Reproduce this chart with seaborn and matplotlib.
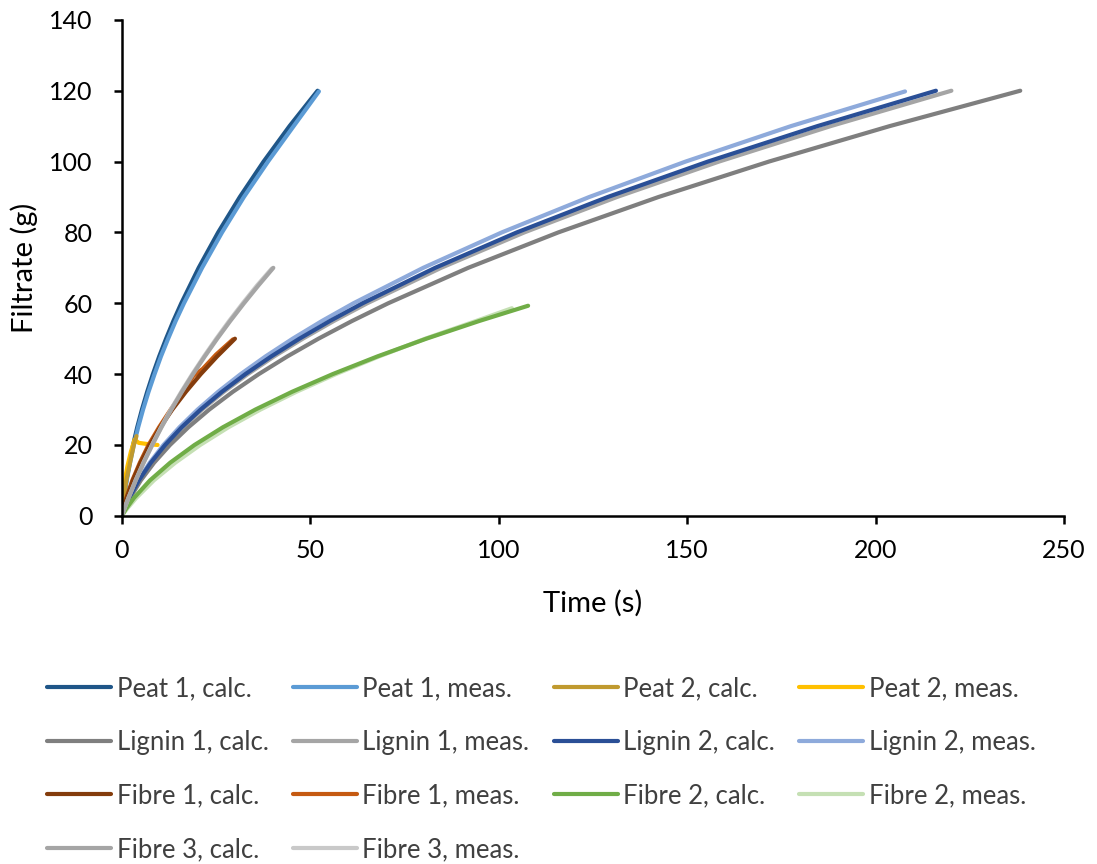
import matplotlib
matplotlib.use("Agg")
import matplotlib.pyplot as plt
import seaborn as sns
import pandas as pd

# ---- data (time in s, filtrate in g) ----
peat1_calc_t = [0, 0.2, 0.54, 1.22, 2.04, 3.0, 4.1, 5.35, 6.74, 8.26, 9.93, 11.75, 13.69,
                15.79, 20.4, 25.57, 31.32, 37.63, 44.5, 51.95]
peat1_calc_v = [0, 2, 5, 10, 15, 20, 25, 30, 35, 40, 45, 50, 55, 60, 70, 80, 90, 100, 110, 120]
peat1_meas_t = [0, 0.22, 0.6, 1.32, 2.2, 3.2, 4.35, 5.65, 7.1, 8.7, 10.4, 12.3, 14.3,
                16.5, 21.3, 26.6, 32.4, 38.8, 45.6, 52.3]
peat1_meas_v = [0, 2, 5, 10, 15, 20, 25, 30, 35, 40, 45, 50, 55, 60, 70, 80, 90, 100, 110, 119.8]

peat2_calc_t = [0, 0.5, 1.2, 2.2, 3.2, 3.9]
peat2_calc_v = [0, 5, 10, 15, 20, 22.5]
peat2_meas_t = [0, 0.3, 0.8, 1.5, 2.4, 3.4, 4.5, 6.5, 9.5]
peat2_meas_v = [0, 5, 10, 14, 18, 21.5, 20.6, 20.3, 20.0]

lignin1_calc_t = [0, 0.79, 2.19, 5.05, 8.58, 12.79, 17.67, 23.22, 29.45, 36.35, 43.93, 52.18,
                  61.1, 70.69, 91.9, 115.81, 142.41, 171.7, 203.69, 238.37]
lignin1_calc_v = [0, 2, 5, 10, 15, 20, 25, 30, 35, 40, 45, 50, 55, 60, 70, 80, 90, 100, 110, 120]
lignin1_meas_t = [0, 0.72, 2.0, 4.62, 7.86, 11.72, 16.21, 21.33, 27.06, 33.42, 40.41, 48.03,
                  56.26, 65.11, 84.71, 106.79, 131.38, 158.45, 188.04, 220.1]
lignin1_meas_v = [0, 2, 5, 10, 15, 20, 25, 30, 35, 40, 45, 50, 55, 60, 70, 80, 90, 100, 110, 120]

lignin2_calc_t = [0, 0.71, 1.96, 4.53, 7.71, 11.5, 15.91, 20.93, 26.56, 32.8, 39.66, 47.13,
                  55.21, 63.9, 83.13, 104.8, 128.93, 155.5, 184.53, 216.0]
lignin2_calc_v = [0, 2, 5, 10, 15, 20, 25, 30, 35, 40, 45, 50, 55, 60, 70, 80, 90, 100, 110, 120]
lignin2_meas_t = [0, 0.68, 1.89, 4.36, 7.42, 11.06, 15.31, 20.13, 25.55, 31.55, 38.15, 45.34,
                  53.11, 61.47, 79.97, 100.82, 124.03, 149.59, 177.52, 207.8]
lignin2_meas_v = [0, 2, 5, 10, 15, 20, 25, 30, 35, 40, 45, 50, 55, 60, 70, 80, 90, 100, 110, 119.8]

fibre1_calc_t = [0, 1.28, 2.94, 4.99, 7.41, 10.22, 13.41, 17.0, 20.95, 25.3, 30.03]
fibre1_calc_v = [0, 5, 10, 15, 20, 25, 30, 35, 40, 45, 50]
fibre1_meas_t = [0, 1.2, 2.8, 4.8, 7.1, 9.9, 13.0, 16.3, 19.0, 21.5, 25.0, 29.5]
fibre1_meas_v = [0, 5, 10, 15, 20, 25, 30, 35, 39.5, 41.5, 45.5, 49.8]

fibre2_calc_t = [0, 1.15, 3.2, 7.48, 12.85, 19.3, 26.84, 35.46, 45.17, 55.96, 67.84, 80.8,
                 94.85, 107.8]
fibre2_calc_v = [0, 2, 5, 10, 15, 20, 25, 30, 35, 40, 45, 50, 55, 59.3]
fibre2_meas_t = [0, 1.4, 3.8, 8.5, 14.2, 20.8, 28.3, 36.8, 46.3, 56.8, 68.3, 80.5, 94.0, 103.5]
fibre2_meas_v = [0, 2, 5, 10, 15, 20, 25, 30, 35, 40, 45, 50, 55, 58.6]

fibre3_calc_t = [0, 0.69, 1.77, 3.71, 5.81, 8.1, 10.54, 13.15, 15.95, 18.9, 22.03, 25.32,
                 28.78, 32.42, 36.23, 40.21]
fibre3_calc_v = [0, 2, 5, 10, 15, 20, 25, 30, 35, 40, 45, 50, 55, 60, 65, 70]
fibre3_meas_t = [0, 0.68, 1.75, 3.67, 5.75, 8.02, 10.43, 13.02, 15.79, 18.71, 21.81, 25.07,
                 28.49, 32.1, 35.87, 39.8]
fibre3_meas_v = [0, 2, 5, 10, 15, 20, 25, 30, 35, 40, 45, 50, 55, 60, 65, 69.8]

series = [
    ("Peat 1, calc.", peat1_calc_t, peat1_calc_v, "#1f5688"),
    ("Peat 1, meas.", peat1_meas_t, peat1_meas_v, "#5b9bd5"),
    ("Peat 2, calc.", peat2_calc_t, peat2_calc_v, "#c09a2f"),
    ("Peat 2, meas.", peat2_meas_t, peat2_meas_v, "#ffc000"),
    ("Lignin 1, calc.", lignin1_calc_t, lignin1_calc_v, "#7f7f7f"),
    ("Lignin 1, meas.", lignin1_meas_t, lignin1_meas_v, "#a5a5a5"),
    ("Lignin 2, calc.", lignin2_calc_t, lignin2_calc_v, "#2a4f96"),
    ("Lignin 2, meas.", lignin2_meas_t, lignin2_meas_v, "#8eaadb"),
    ("Fibre 1, calc.", fibre1_calc_t, fibre1_calc_v, "#843c0c"),
    ("Fibre 1, meas.", fibre1_meas_t, fibre1_meas_v, "#c55a11"),
    ("Fibre 2, calc.", fibre2_calc_t, fibre2_calc_v, "#70ad47"),
    ("Fibre 2, meas.", fibre2_meas_t, fibre2_meas_v, "#c5e0b4"),
    ("Fibre 3, calc.", fibre3_calc_t, fibre3_calc_v, "#a5a5a5"),
    ("Fibre 3, meas.", fibre3_meas_t, fibre3_meas_v, "#c9c9c9"),
]

sns.set_theme(style="white")
plt.rcParams["font.family"] = ["Lato", "DejaVu Sans"]

fig = plt.figure(figsize=(10.97, 8.64), dpi=100)
ax = fig.add_axes([0.111, 0.403, 0.859, 0.574])

draw_order = [0, 1, 3, 2, 5, 4, 7, 6, 9, 8, 11, 10, 13, 12]
for i in draw_order:
    name, t, v, c = series[i]
    df = pd.DataFrame({"Time (s)": t, "Filtrate (g)": v})
    sns.lineplot(data=df, x="Time (s)", y="Filtrate (g)", sort=False,
                 color=c, lw=3, label=name, ax=ax, solid_capstyle="round")

ax.set_xlim(0, 250)
ax.set_ylim(0, 140)
ax.set_xticks([0, 50, 100, 150, 200, 250])
ax.set_yticks(range(0, 141, 20))
for s in ["top", "right"]:
    ax.spines[s].set_visible(False)
for s in ["left", "bottom"]:
    ax.spines[s].set_color("black")
    ax.spines[s].set_linewidth(1.8)
ax.tick_params(axis="both", direction="out", length=6, width=1.8, color="black",
               labelsize=18, labelcolor="black", left=True, bottom=True)
ax.tick_params(axis="x", pad=11)
ax.tick_params(axis="y", pad=15)
ax.set_xlabel("Time (s)", fontsize=21, color="black", labelpad=20)
ax.set_ylabel("Filtrate (g)", fontsize=21, color="black", labelpad=8)

handles, labels = ax.get_legend_handles_labels()
ax.get_legend().remove()
lookup = dict(zip(labels, handles))
names = [s[0] for s in series]
cols = [[0, 4, 8, 12], [1, 5, 9, 13], [2, 6, 10], [3, 7, 11]]
order = [names[i] for col in cols for i in col]
fig.legend([lookup[n] for n in order], order, ncol=4, loc="upper left",
           bbox_to_anchor=(0.022, 0.244), frameon=False, fontsize=18.5,
           handlelength=2.5, handletextpad=0.2, columnspacing=0.95,
           labelspacing=1.11, labelcolor="#404040")

fig.savefig("out.png", dpi=100)
